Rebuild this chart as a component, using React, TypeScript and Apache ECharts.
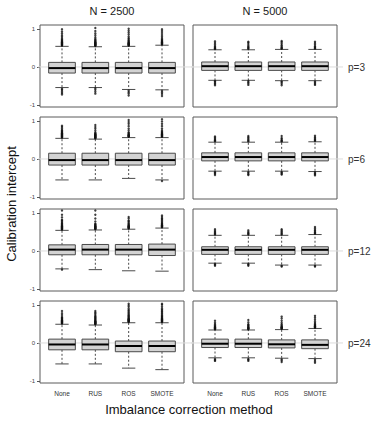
import React, { useEffect, useRef } from "react";
import * as echarts from "echarts";

const categories = ["None", "RUS", "ROS", "SMOTE"];
const sampleSizes = ["N = 2500", "N = 5000"];
const predictors = ["p=3", "p=6", "p=12", "p=24"];
const yTicks = [-1, 0, 1];
const xTicks = [1, 2, 3, 4];

// box stats per category: [lowerWhisker, q1, median, q3, upperWhisker]
const boxN2500P3 = [
  [-0.54, -0.16, -0.03, 0.12, 0.54],
  [-0.54, -0.16, -0.03, 0.12, 0.53],
  [-0.59, -0.16, -0.03, 0.12, 0.54],
  [-0.6, -0.16, -0.03, 0.12, 0.57],
];
const boxN5000P3 = [
  [-0.35, -0.09, 0.02, 0.13, 0.45],
  [-0.35, -0.09, 0.02, 0.13, 0.45],
  [-0.36, -0.09, 0.02, 0.13, 0.46],
  [-0.36, -0.09, 0.02, 0.13, 0.46],
];
const boxN2500P6 = [
  [-0.55, -0.16, -0.03, 0.15, 0.54],
  [-0.55, -0.16, -0.03, 0.15, 0.52],
  [-0.51, -0.16, -0.03, 0.15, 0.56],
  [-0.55, -0.16, -0.03, 0.15, 0.56],
];
const boxN5000P6 = [
  [-0.32, -0.05, 0.05, 0.16, 0.44],
  [-0.32, -0.05, 0.05, 0.16, 0.44],
  [-0.32, -0.05, 0.05, 0.16, 0.44],
  [-0.33, -0.05, 0.05, 0.16, 0.45],
];
const boxN2500P12 = [
  [-0.47, -0.1, 0.035, 0.16, 0.54],
  [-0.49, -0.1, 0.035, 0.17, 0.55],
  [-0.52, -0.1, 0.035, 0.17, 0.57],
  [-0.53, -0.12, 0.035, 0.18, 0.6],
];
const boxN5000P12 = [
  [-0.32, -0.09, 0.03, 0.11, 0.41],
  [-0.32, -0.09, 0.03, 0.11, 0.41],
  [-0.37, -0.09, 0.03, 0.11, 0.41],
  [-0.37, -0.09, 0.03, 0.11, 0.43],
];
const boxN2500P24 = [
  [-0.55, -0.18, -0.04, 0.1, 0.49],
  [-0.55, -0.18, -0.04, 0.1, 0.47],
  [-0.66, -0.23, -0.08, 0.05, 0.53],
  [-0.7, -0.23, -0.08, 0.05, 0.53],
];
const boxN5000P24 = [
  [-0.39, -0.12, -0.02, 0.1, 0.34],
  [-0.39, -0.12, -0.02, 0.1, 0.34],
  [-0.4, -0.13, -0.035, 0.08, 0.35],
  [-0.41, -0.15, -0.05, 0.08, 0.38],
];

// outlying values per category
const outN2500P3 = [
  [0.56, 0.57, 0.58, 0.59, 0.6, 0.61, 0.62, 0.63, 0.64, 0.65, 0.66, 0.68, 0.7, 0.72, 0.75, 0.79, 0.83, 0.88, 0.93, 0.99, -0.57, -0.6, -0.64, -0.68, -0.72],
  [0.55, 0.56, 0.57, 0.58, 0.59, 0.6, 0.61, 0.62, 0.63, 0.64, 0.65, 0.67, 0.69, 0.71, 0.74, 0.78, 0.83, 0.88, 0.94, 1.02, -0.56, -0.6, -0.65, -0.7],
  [0.56, 0.57, 0.58, 0.59, 0.6, 0.61, 0.62, 0.63, 0.64, 0.66, 0.68, 0.7, 0.73, 0.76, 0.8, 0.85, 0.9, 0.95, 1.0, -0.62, -0.66, -0.7, -0.75],
  [0.59, 0.6, 0.61, 0.62, 0.63, 0.64, 0.65, 0.66, 0.68, 0.7, 0.72, 0.75, 0.79, 0.84, 0.89, 0.94, 0.99, -0.63, -0.67, -0.71, -0.76],
];
const outN5000P3 = [
  [0.47, 0.48, 0.5, 0.52, 0.55, 0.59, 0.63, 0.67, -0.37, -0.39, -0.42, -0.45, -0.48],
  [0.47, 0.49, 0.51, 0.53, 0.56, 0.6, 0.64, 0.66, -0.37, -0.4, -0.43, -0.47],
  [0.48, 0.49, 0.51, 0.54, 0.57, 0.61, 0.65, 0.68, -0.38, -0.4, -0.44, -0.48],
  [0.48, 0.5, 0.52, 0.54, 0.58, 0.62, 0.66, -0.38, -0.41, -0.44, -0.47],
];
const outN2500P6 = [
  [0.56, 0.57, 0.58, 0.59, 0.6, 0.61, 0.62, 0.63, 0.64, 0.65, 0.66, 0.67, 0.68, 0.7, 0.72, 0.74, 0.76, 0.8, 0.84, 0.87],
  [0.54, 0.55, 0.56, 0.57, 0.58, 0.59, 0.6, 0.61, 0.62, 0.63, 0.64, 0.65, 0.67, 0.69, 0.74, 0.79, 0.84, 0.89],
  [0.58, 0.59, 0.6, 0.61, 0.62, 0.63, 0.64, 0.66, 0.68, 0.7, 0.75, 0.8, 0.86, 0.92, 0.97, 1.02],
  [0.58, 0.59, 0.6, 0.61, 0.62, 0.63, 0.64, 0.65, 0.66, 0.68, 0.7, 0.72, 0.75, 0.8, 0.86, 0.92, 0.98, 1.04, -0.58],
];
const outN5000P6 = [
  [0.46, 0.48, 0.5, 0.53, 0.56, 0.59, -0.34, -0.36, -0.39, -0.42],
  [0.46, 0.48, 0.51, 0.54, 0.57, 0.6, -0.34, -0.37, -0.4, -0.42],
  [0.46, 0.47, 0.49, 0.52, 0.55, 0.6, -0.34, -0.36, -0.39, -0.41],
  [0.47, 0.49, 0.51, 0.54, 0.57, 0.61, -0.35, -0.38, -0.4, -0.43],
];
const outN2500P12 = [
  [0.56, 0.57, 0.58, 0.59, 0.6, 0.61, 0.62, 0.63, 0.64, 0.65, 0.66, 0.68, 0.7, 0.72, 0.74, 0.77, 0.8, 0.82, 0.88, 0.95, 1.06, -0.49],
  [0.57, 0.58, 0.59, 0.6, 0.61, 0.62, 0.63, 0.64, 0.65, 0.66, 0.68, 0.7, 0.71, 0.77, 0.85, 0.95, 1.06],
  [0.59, 0.6, 0.61, 0.62, 0.63, 0.64, 0.65, 0.66, 0.68, 0.7, 0.72, 0.75, 0.78, 0.8, 0.85, 0.89],
  [0.62, 0.63, 0.64, 0.65, 0.66, 0.67, 0.68, 0.7, 0.72, 0.74, 0.77, 0.8, 0.83, 0.85, 0.89, 0.93],
];
const outN5000P12 = [
  [0.43, 0.45, 0.47, 0.5, 0.53, 0.57, -0.34, -0.36, -0.39],
  [0.43, 0.45, 0.47, 0.5, 0.54, -0.34, -0.36, -0.39],
  [0.43, 0.45, 0.48, 0.51, 0.54, 0.57, -0.39, -0.41],
  [0.45, 0.47, 0.49, 0.52, 0.55, 0.59, 0.63, -0.39, -0.41],
];
const outN2500P24 = [
  [0.51, 0.52, 0.53, 0.54, 0.55, 0.56, 0.57, 0.58, 0.59, 0.6, 0.62, 0.64, 0.66, 0.68, 0.73, 0.78, 0.84],
  [0.49, 0.5, 0.51, 0.52, 0.53, 0.54, 0.55, 0.56, 0.57, 0.58, 0.6, 0.62, 0.64, 0.66, 0.68, 0.7, 0.73, 0.77, 0.8, 0.84],
  [0.55, 0.56, 0.57, 0.58, 0.59, 0.6, 0.61, 0.62, 0.63, 0.64, 0.66, 0.68, 0.7, 0.72, 0.74, 0.77, 0.8, 0.83, 0.86, 0.9, 0.95, 0.99, 1.03],
  [0.55, 0.56, 0.57, 0.58, 0.59, 0.6, 0.61, 0.62, 0.63, 0.64, 0.66, 0.68, 0.7, 0.72, 0.75, 0.78, 0.81, 0.84, 0.87, 0.9, 0.95, 1.0, 1.03],
];
const outN5000P24 = [
  [0.36, 0.37, 0.38, 0.39, 0.4, 0.41, 0.42, 0.44, 0.46, 0.49, 0.53, 0.58, -0.42, -0.45, -0.47],
  [0.36, 0.37, 0.38, 0.39, 0.4, 0.41, 0.43, 0.45, 0.47, 0.49, 0.54, 0.6, -0.42, -0.44, -0.47],
  [0.37, 0.38, 0.39, 0.4, 0.41, 0.42, 0.44, 0.46, 0.49, 0.53, 0.58, 0.64, 0.69, -0.43, -0.46, -0.5],
  [0.4, 0.41, 0.42, 0.43, 0.44, 0.45, 0.47, 0.49, 0.52, 0.56, 0.61, 0.66, 0.71, -0.44, -0.48, -0.52],
];

const panelBoxes = [
  [boxN2500P3, boxN5000P3],
  [boxN2500P6, boxN5000P6],
  [boxN2500P12, boxN5000P12],
  [boxN2500P24, boxN5000P24],
];
const panelOutliers = [
  [outN2500P3, outN5000P3],
  [outN2500P6, outN5000P6],
  [outN2500P12, outN5000P12],
  [outN2500P24, outN5000P24],
];

const FONT = "'Liberation Sans', Arial, sans-serif";
const X_MIN = 0.34;
const X_MAX = 4.66;
const Y_MIN = -1.05;
const Y_MAX = 1.1;
const GRID_LEFT = [40, 193];
const GRID_TOP = [25, 117, 209, 301];
const GRID_W = 144;
const GRID_H = 82;

function buildOption() {
  const grid: any[] = [];
  const xAxis: any[] = [];
  const yAxis: any[] = [];
  const series: any[] = [];
  const graphic: any[] = [];
  let idx = 0;
  for (let r = 0; r < predictors.length; r++) {
    for (let c = 0; c < sampleSizes.length; c++) {
      grid.push({
        left: GRID_LEFT[c],
        top: GRID_TOP[r],
        width: GRID_W,
        height: GRID_H,
        show: true,
        borderColor: "#5a5a5a",
        borderWidth: 1,
        backgroundColor: "transparent",
      });
      const bottomRow = r === predictors.length - 1;
      xAxis.push({
        type: "value",
        gridIndex: idx,
        min: X_MIN,
        max: X_MAX,
        axisLine: { show: false },
        splitLine: { show: false },
        axisTick: {
          show: bottomRow,
          customValues: xTicks,
          length: 4,
          lineStyle: { color: "#555" },
        },
        axisLabel: {
          show: bottomRow,
          customValues: xTicks,
          formatter: (v: number) => categories[Math.round(v) - 1] ?? "",
          fontSize: 6.5,
          color: "#333",
          fontFamily: FONT,
          margin: 7,
        },
      });
      const leftCol = c === 0;
      yAxis.push({
        type: "value",
        gridIndex: idx,
        min: Y_MIN,
        max: Y_MAX,
        axisLine: { show: false },
        splitLine: { show: false },
        axisTick: {
          show: leftCol,
          customValues: yTicks,
          length: 3,
          lineStyle: { color: "#555" },
        },
        axisLabel: {
          show: leftCol,
          customValues: yTicks,
          fontSize: 6,
          color: "#444",
          fontFamily: FONT,
          margin: 5,
        },
      });
      // zero reference line
      series.push({
        type: "custom",
        xAxisIndex: idx,
        yAxisIndex: idx,
        silent: true,
        z: 1,
        data: [[0]],
        renderItem: (params: any, api: any) => {
          const a = api.coord([X_MIN, api.value(0)]);
          const b = api.coord([X_MAX, api.value(0)]);
          return {
            type: "line",
            shape: { x1: a[0] - 2, y1: a[1], x2: b[0] + (c === 0 ? 9 : 6), y2: b[1] },
            style: { stroke: "#dcdcdc", lineWidth: 1 },
          };
        },
      });
      // boxes
      const boxes = panelBoxes[r][c];
      series.push({
        type: "custom",
        xAxisIndex: idx,
        yAxisIndex: idx,
        silent: true,
        z: 2,
        encode: { x: 0, y: [1, 2, 3, 4, 5] },
        data: boxes.map((b, i) => [i + 1, ...b]),
        renderItem: (params: any, api: any) => {
          const x = api.value(0);
          const lo = api.coord([x, api.value(1)]);
          const q1 = api.coord([x, api.value(2)]);
          const med = api.coord([x, api.value(3)]);
          const q3 = api.coord([x, api.value(4)]);
          const hi = api.coord([x, api.value(5)]);
          const half = api.size([0.4, 0])[0];
          const cap = half / 2;
          const cx = lo[0];
          const stroke = "#4a4a4a";
          return {
            type: "group",
            children: [
              {
                type: "line",
                shape: { x1: cx, y1: q3[1], x2: cx, y2: hi[1] },
                style: { stroke, lineWidth: 1, lineDash: [2, 2] },
              },
              {
                type: "line",
                shape: { x1: cx, y1: q1[1], x2: cx, y2: lo[1] },
                style: { stroke, lineWidth: 1, lineDash: [2, 2] },
              },
              {
                type: "line",
                shape: { x1: cx - cap, y1: hi[1], x2: cx + cap, y2: hi[1] },
                style: { stroke, lineWidth: 1 },
              },
              {
                type: "line",
                shape: { x1: cx - cap, y1: lo[1], x2: cx + cap, y2: lo[1] },
                style: { stroke, lineWidth: 1 },
              },
              {
                type: "rect",
                shape: { x: cx - half, y: q3[1], width: half * 2, height: q1[1] - q3[1] },
                style: { fill: "#d3d3d3", stroke, lineWidth: 1 },
              },
              {
                type: "line",
                shape: { x1: cx - half, y1: med[1], x2: cx + half, y2: med[1] },
                style: { stroke: "#000", lineWidth: 2 },
              },
            ],
          };
        },
      });
      // outliers
      const outs = panelOutliers[r][c];
      const pts: number[][] = [];
      outs.forEach((arr, i) => arr.forEach((v) => pts.push([i + 1, v])));
      series.push({
        type: "scatter",
        xAxisIndex: idx,
        yAxisIndex: idx,
        silent: true,
        z: 3,
        symbol: "circle",
        symbolSize: 2.4,
        itemStyle: { color: "#111" },
        data: pts,
      });
      idx++;
    }
  }

  sampleSizes.forEach((t, c) => {
    graphic.push({
      type: "text",
      x: GRID_LEFT[c] + GRID_W / 2,
      y: 11,
      style: {
        text: t,
        fontSize: 11,
        fontFamily: FONT,
        fill: "#1a1a1a",
        align: "center",
        verticalAlign: "middle",
      },
    });
  });
  predictors.forEach((t, r) => {
    graphic.push({
      type: "text",
      x: 348,
      y: GRID_TOP[r] + 42,
      style: {
        text: t,
        fontSize: 10,
        fontFamily: FONT,
        fill: "#333",
        align: "left",
        verticalAlign: "middle",
      },
    });
  });
  graphic.push({
    type: "text",
    x: 11,
    y: 204,
    rotation: Math.PI / 2,
    style: {
      text: "Calibration intercept",
      fontSize: 13,
      fontFamily: FONT,
      fill: "#111",
      align: "center",
      verticalAlign: "middle",
    },
  });
  graphic.push({
    type: "text",
    x: 189,
    y: 409,
    style: {
      text: "Imbalance correction method",
      fontSize: 13,
      fontFamily: FONT,
      fill: "#111",
      align: "center",
      verticalAlign: "middle",
    },
  });

  return {
    animation: false,
    backgroundColor: "#ffffff",
    grid,
    xAxis,
    yAxis,
    series,
    graphic,
  };
}

export default function App() {
  const ref = useRef<HTMLDivElement>(null);
  useEffect(() => {
    if (!ref.current) return;
    const chart = echarts.init(ref.current, undefined, { renderer: "svg" });
    chart.setOption(buildOption() as any);
    return () => chart.dispose();
  }, []);
  return (
    <div
      ref={ref}
      style={{ position: "absolute", left: 0, top: 0, width: 386, height: 423 }}
    />
  );
}
